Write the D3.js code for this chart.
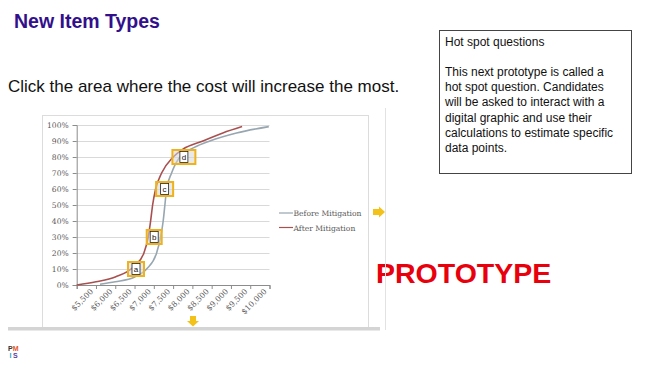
<!DOCTYPE html>
<meta charset="utf-8">
<script src="https://cdn.jsdelivr.net/npm/d3@7"></script>
<style>
  body { margin: 0; background: #fff; }
  svg { display: block; }
  .tick text { font-family: "DejaVu Serif", serif; fill: #595959; }
</style>
<div id="slide"></div>
<script>
// cost categories on the x axis
const costLabels = [5500, 6000, 6500, 7000, 7500, 8000, 8500, 9000, 9500, 10000];
const pctTicks = [0, 10, 20, 30, 40, 50, 60, 70, 80, 90, 100];

// cumulative curves (cost, percent)
const beforeCost = [5854, 6250, 6753, 7063, 7322, 7426, 7493, 7537, 7582, 7711, 7926, 8300, 8703, 9395, 10232];
const beforePct  = [0.5,  2,    5,    10,   20,   30,   40,   50,   60,   70,   80,   86,   90,   95,   99];
const afterCost  = [5250, 5750, 6250, 6753, 6993, 7105, 7167, 7219, 7297, 7452, 7752, 8011, 8522, 9040, 9540];
const afterPct   = [0,    2,    5,    12,   20,   30,   40,   50,   60,   70,   80,   85,   90,   95,   99];

// hot spot boxes
const spotLabels = ["a", "b", "c", "d"];
const spotCost   = [6788, 7260, 7530, 8030];
const spotPct    = [10, 30, 60, 80];

const seriesNames = ["Before Mitigation", "After Mitigation"];
const seriesColors = ["#97a6b0", "#a8504f"];

const notes = [
  "This next prototype is called a",
  "hot spot question. Candidates",
  "will be asked to interact with a",
  "digital graphic and use their",
  "calculations to estimate specific",
  "data points."
];

const W = 653, H = 370;
const svg = d3.select("#slide").append("svg").attr("width", W).attr("height", H);

// slide heading and question
svg.append("text").attr("x", 14).attr("y", 28)
  .style("font", "bold 19.5px 'Liberation Sans', Arial, sans-serif")
  .style("fill", "#32108c").text("New Item Types");
svg.append("text").attr("x", 8).attr("y", 92)
  .style("font", "17px 'Liberation Sans', Arial, sans-serif")
  .style("fill", "#111").text("Click the area where the cost will increase the most.");

// notes box on the right
svg.append("rect").attr("x", 439.5).attr("y", 30.5).attr("width", 192).attr("height", 143)
  .attr("fill", "#fff").attr("stroke", "#444");
svg.append("text").attr("x", 445).attr("y", 46)
  .style("font", "12px 'Liberation Sans', Arial, sans-serif").style("fill", "#111")
  .text("Hot spot questions");
svg.append("g").selectAll("text").data(notes).join("text")
  .attr("x", 445).attr("y", (d, i) => 76 + i * 15.2)
  .style("font", "12px 'Liberation Sans', Arial, sans-serif").style("fill", "#111")
  .text(d => d);

svg.append("text").attr("x", 376).attr("y", 283)
  .style("font", "bold 28.5px 'Liberation Sans', Arial, sans-serif")
  .style("fill", "#e8000d").text("PROTOTYPE");

// chart picture frame
svg.append("rect").attr("x", 42.5).attr("y", 115.5).attr("width", 326).attr("height", 212)
  .attr("fill", "#fff").attr("stroke", "#dcdcdc");
svg.append("line").attr("x1", 385.5).attr("x2", 385.5).attr("y1", 108).attr("y2", 330)
  .attr("stroke", "#e2e2e2");
svg.append("rect").attr("x", 8).attr("y", 327).attr("width", 372).attr("height", 3.5)
  .attr("fill", "#d4d4d4");

// plot area
const plotL = 76.7, plotR = 269.5, plotT = 125, plotB = 285;
const x = d3.scaleLinear().domain([5250, 10250]).range([plotL, plotR]);
const y = d3.scaleLinear().domain([0, 100]).range([plotB, plotT]);

svg.append("g").attr("transform", `translate(${plotL},0)`)
  .call(d3.axisLeft(y).tickValues(pctTicks.slice(1)).tickSize(-(plotR - plotL)).tickFormat(""))
  .call(g => g.select(".domain").remove())
  .call(g => g.selectAll("line").attr("stroke", "#d9d9d9"));

svg.append("g").attr("transform", `translate(${plotL},0)`)
  .call(d3.axisLeft(y).tickValues(pctTicks).tickSize(4).tickPadding(4).tickFormat(d => d + "%"))
  .call(g => g.select(".domain").attr("stroke", "#8c8c8c"))
  .call(g => g.selectAll("line").attr("stroke", "#8c8c8c"))
  .call(g => g.selectAll("text").style("font-size", "7.6px"));

const edges = d3.range(costLabels.length + 1).map(i => 5250 + i * 500);
svg.append("g").attr("transform", `translate(0,${plotB})`)
  .call(d3.axisBottom(x).tickValues(edges).tickSize(4).tickFormat(""))
  .call(g => g.select(".domain").attr("stroke", "#8c8c8c"))
  .call(g => g.selectAll("line").attr("stroke", "#8c8c8c"));

svg.append("g").attr("transform", `translate(0,${plotB})`)
  .call(d3.axisBottom(x).tickValues(costLabels).tickSize(0).tickFormat(d3.format("$,")))
  .call(g => g.select(".domain").remove())
  .call(g => g.selectAll("text")
    .style("font-size", "7.8px")
    .attr("text-anchor", "end")
    .attr("transform", "translate(5,5) rotate(-45)")
    .attr("dy", "0.35em").attr("y", 0).attr("x", 0));

const line = d3.line().x(d => x(d[0])).y(d => y(d[1])).curve(d3.curveMonotoneX);
const curves = [d3.zip(beforeCost, beforePct), d3.zip(afterCost, afterPct)];
svg.append("g").selectAll("path").data(curves).join("path")
  .attr("d", line).attr("fill", "none")
  .attr("stroke", (d, i) => seriesColors[i]).attr("stroke-width", 1.6);

// legend
const lg = svg.append("g").selectAll("g").data(seriesNames).join("g")
  .attr("transform", (d, i) => `translate(279,${213 + i * 14.5})`);
lg.append("line").attr("x2", 14).attr("stroke", (d, i) => seriesColors[i]).attr("stroke-width", 1.2);
lg.append("text").attr("x", 14.5).attr("y", 3)
  .style("font", "7.6px 'DejaVu Serif', serif").style("fill", "#595959").text(d => d);

// hot spot boxes
const boxW = [16, 15, 17, 23];
const spots = svg.append("g").selectAll("g").data(spotLabels).join("g")
  .attr("transform", (d, i) => `translate(${x(spotCost[i])},${y(spotPct[i])})`);
spots.append("rect")
  .attr("x", (d, i) => -boxW[i] / 2).attr("y", -7).attr("width", (d, i) => boxW[i]).attr("height", 14)
  .attr("fill", "rgba(215,215,215,0.55)").attr("stroke", "#efb21c").attr("stroke-width", 2);
spots.append("rect").attr("x", -4).attr("y", -5.5).attr("width", 8).attr("height", 11)
  .attr("fill", "#fff").attr("stroke", "#222").attr("stroke-width", 0.8);
spots.append("text").attr("text-anchor", "middle").attr("y", 3)
  .style("font", "8px 'Liberation Sans', Arial, sans-serif").style("fill", "#111").text(d => d);

// yellow arrows
svg.append("path").attr("d", "M373,209 h6 v-2.5 l6,5.5 l-6,5.5 v-2.5 h-6 z").attr("fill", "#f3c21a");
svg.append("path").attr("d", "M190,316 h6 v5 h3 l-6,5.5 l-6,-5.5 h3 z").attr("fill", "#f3c21a");

// small logo
const logo = svg.append("g").attr("transform", "translate(8,345)")
  .style("font", "bold 7px 'Liberation Sans', Arial, sans-serif");
logo.append("text").attr("y", 6).style("fill", "#333").text("P");
logo.append("text").attr("x", 4.8).attr("y", 6).style("fill", "#e8552a").text("M");
logo.append("text").attr("x", 1.5).attr("y", 12.5).style("fill", "#2aa6c8").text("I");
logo.append("text").attr("x", 5).attr("y", 12.5).style("fill", "#5b3c9c").text("S");
</script>
